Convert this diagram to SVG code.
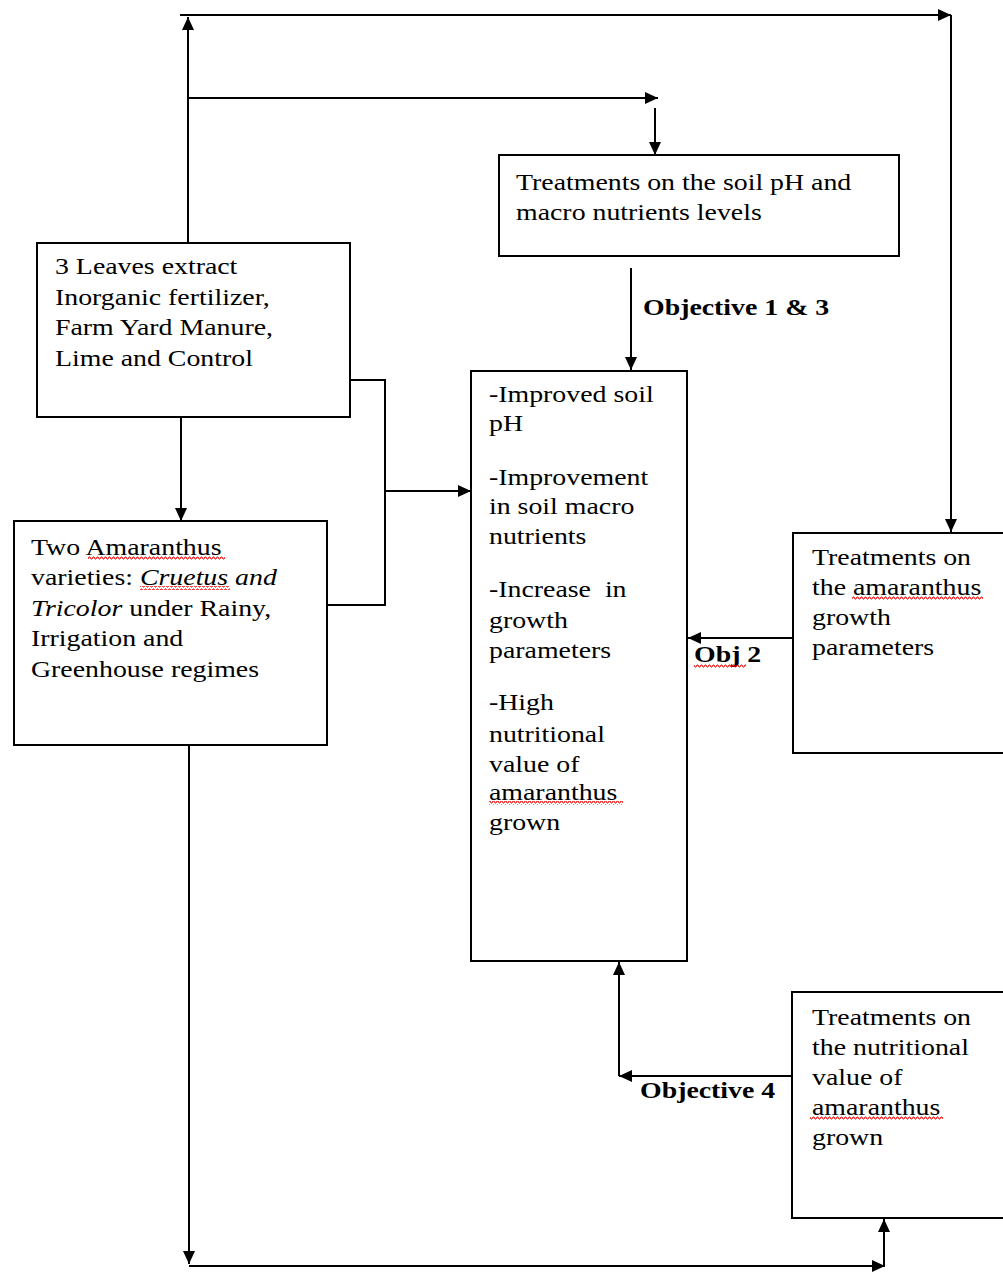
<svg xmlns="http://www.w3.org/2000/svg" width="1003" height="1273" viewBox="0 0 1003 1273">
<style>
.box{fill:#fff;stroke:#000;stroke-width:2}
.t{font-family:"Liberation Serif","Times New Roman",serif;font-size:24px;fill:#000}
.b{font-weight:bold}
.i{font-style:italic}
.c{fill:none;stroke:#000;stroke-width:2}
.a{marker-end:url(#ah)}
</style>
<defs>
<marker id="ah" markerUnits="userSpaceOnUse" markerWidth="14" markerHeight="12" refX="13" refY="6" orient="auto">
<path d="M0,0 L13,6 L0,12 Z" fill="#000"/>
</marker>
<pattern id="sq" patternUnits="userSpaceOnUse" width="4" height="4">
<polyline points="0,3 1,1 2,1 3,3 4,3" fill="none" stroke="#e00" stroke-width="1"/>
</pattern>
</defs>
<rect width="1003" height="1273" fill="#fff"/>
<g id="connectors">
<path class="c a" d="M188,243 V17"/>
<path class="c a" d="M180,15 H951"/>
<path class="c a" d="M951,15 V532"/>
<path class="c a" d="M188,98 H658"/>
<path class="c a" d="M655,108 V155"/>
<path class="c a" d="M631,268 V370"/>
<path class="c a" d="M181,417 V521"/>
<path class="c" d="M350,380 H385 V605 H327"/>
<path class="c a" d="M385,491 H471"/>
<path class="c a" d="M793,638 H688"/>
<path class="c a" d="M792,1076 H619"/>
<path class="c a" d="M619,1076 V962"/>
<path class="c a" d="M189,746 V1264"/>
<path class="c a" d="M189,1266 H885"/>
<path class="c a" d="M884,1266 V1219"/>
</g>
<g id="soil-treatments">
<rect class="box" x="499" y="155" width="400" height="101"/>
<text class="t" transform="translate(516,190) scale(1.16,1)"><tspan x="0" y="0">Treatments on the soil pH and</tspan><tspan x="0" y="30">macro nutrients levels</tspan></text>
</g>
<g id="inputs">
<rect class="box" x="37" y="243" width="313" height="174"/>
<text class="t" transform="translate(55,274) scale(1.16,1)"><tspan x="0" y="0">3 Leaves extract</tspan><tspan x="0" y="30.7">Inorganic fertilizer,</tspan><tspan x="0" y="61.4">Farm Yard Manure,</tspan><tspan x="0" y="92">Lime and Control</tspan></text>
</g>
<g id="varieties">
<rect class="box" x="14" y="521" width="313" height="224"/>
<text class="t" transform="translate(31,555) scale(1.16,1)"><tspan x="0" y="0">Two Amaranthus</tspan><tspan x="0" y="30.5">varieties: <tspan class="i">Cruetus and</tspan></tspan><tspan x="0" y="61" class="i">Tricolor</tspan><tspan> under Rainy,</tspan><tspan x="0" y="91.5">Irrigation and</tspan><tspan x="0" y="122">Greenhouse regimes</tspan></text>
<rect x="88" y="556" width="137" height="4" fill="url(#sq)"/>
<rect x="140" y="586" width="90" height="4" fill="url(#sq)"/>
</g>
<g id="outcomes">
<rect class="box" x="471" y="371" width="216" height="590"/>
<text class="t" transform="translate(489,402) scale(1.16,1)"><tspan x="0" y="0">-Improved soil</tspan><tspan x="0" y="29">pH</tspan><tspan x="0" y="83">-Improvement</tspan><tspan x="0" y="112">in soil macro</tspan><tspan x="0" y="142">nutrients</tspan><tspan x="0" y="195">-Increase&#160; in</tspan><tspan x="0" y="226">growth</tspan><tspan x="0" y="256">parameters</tspan><tspan x="0" y="308">-High</tspan><tspan x="0" y="340">nutritional</tspan><tspan x="0" y="370">value of</tspan><tspan x="0" y="398">amaranthus</tspan><tspan x="0" y="428">grown</tspan></text>
<rect x="489" y="801" width="134" height="4" fill="url(#sq)"/>
</g>
<g id="growth-treatments">
<rect class="box" x="793" y="533" width="230" height="220"/>
<text class="t" transform="translate(812,565) scale(1.16,1)"><tspan x="0" y="0">Treatments on</tspan><tspan x="0" y="30">the amaranthus</tspan><tspan x="0" y="60">growth</tspan><tspan x="0" y="90">parameters</tspan></text>
<rect x="852" y="596" width="131" height="4" fill="url(#sq)"/>
</g>
<g id="nutrition-treatments">
<rect class="box" x="792" y="992" width="230" height="226"/>
<text class="t" transform="translate(812,1025) scale(1.16,1)"><tspan x="0" y="0">Treatments on</tspan><tspan x="0" y="30">the nutritional</tspan><tspan x="0" y="60">value of</tspan><tspan x="0" y="90">amaranthus</tspan><tspan x="0" y="120">grown</tspan></text>
<rect x="810" y="1116" width="133" height="4" fill="url(#sq)"/>
</g>
<g id="labels">
<text class="t b" transform="translate(643,315) scale(1.16,1)">Objective 1 &amp; 3</text>
<text class="t b" transform="translate(694,662) scale(1.16,1)">Obj 2</text>
<rect x="694" y="664" width="52" height="4" fill="url(#sq)"/>
<text class="t b" transform="translate(640,1098) scale(1.16,1)">Objective 4</text>
</g>
</svg>
